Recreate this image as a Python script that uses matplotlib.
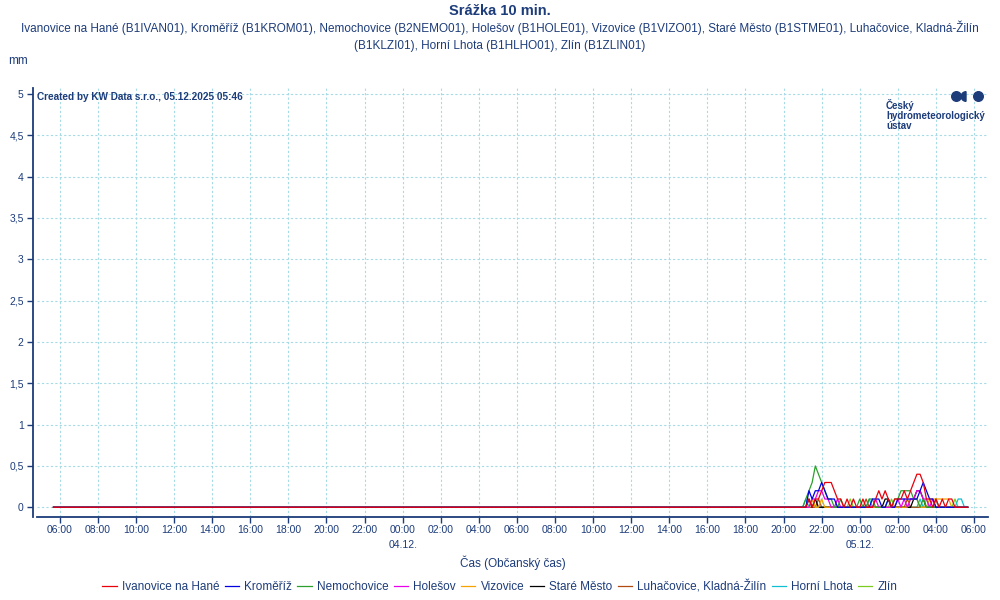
import numpy as np
import pandas as pd
import matplotlib
matplotlib.use("Agg")
import matplotlib.pyplot as plt
import matplotlib.dates as mdates
from matplotlib.patches import Circle, Wedge

plt.rcParams['font.family'] = ['Liberation Sans', 'DejaVu Sans']

navy = '#1d3c7a'
gridc = '#a6dbe6'

# 10-min rainfall, 03.12. 05:40 .. 05.12. 05:40; all stations are 0 until 04.12. 20:40
series_start = '2025-12-03 05:40'
active_start = '2025-12-04 20:40'
series_end = '2025-12-05 05:40'

# values from 04.12. 20:40 to 05.12. 05:40 (55 steps)
ivanovice = [0, 0, 0, 0, 0.1, 0, 0.1, 0.1, 0.2, 0.3, 0.3, 0.3, 0.2, 0.1, 0.1, 0, 0.1, 0, 0.1, 0,
             0, 0.1, 0, 0, 0, 0.1, 0.2, 0.1, 0.2, 0.1, 0, 0.1, 0.1, 0.1, 0.2, 0.1, 0.2, 0.3, 0.4, 0.4,
             0.3, 0.1, 0.1, 0, 0.1, 0, 0.1, 0, 0.1, 0.1, 0, 0, 0, 0, 0]
kromeriz = [0, 0, 0, 0, 0.2, 0.1, 0.2, 0.2, 0.3, 0.2, 0.1, 0.1, 0.1, 0, 0, 0, 0, 0, 0, 0,
            0, 0, 0, 0, 0.1, 0.1, 0.1, 0, 0, 0.1, 0, 0, 0.1, 0.1, 0.1, 0.1, 0.1, 0.1, 0.1, 0.2,
            0.3, 0.2, 0.1, 0.1, 0, 0, 0, 0, 0, 0, 0, 0, 0, 0, 0]
nemochovice = [0, 0, 0, 0.1, 0.2, 0.3, 0.5, 0.4, 0.3, 0.2, 0.1, 0.1, 0, 0, 0.1, 0, 0, 0, 0, 0,
               0.1, 0, 0, 0.1, 0.1, 0, 0, 0, 0, 0.1, 0, 0.1, 0.1, 0.2, 0.2, 0.2, 0.2, 0.1, 0.1, 0,
               0.1, 0, 0, 0, 0, 0, 0, 0, 0, 0, 0, 0, 0, 0, 0]
holesov = [0, 0, 0, 0, 0, 0.1, 0.1, 0.2, 0.2, 0.1, 0.1, 0, 0, 0.1, 0, 0, 0, 0, 0, 0,
           0, 0, 0, 0, 0, 0.1, 0, 0, 0, 0, 0, 0, 0.1, 0, 0.1, 0, 0.1, 0.1, 0.2, 0.2,
           0.1, 0.1, 0, 0.1, 0, 0, 0, 0, 0, 0, 0, 0, 0, 0, 0]
vizovice = [0, 0, 0, 0, 0, 0.1, 0, 0, 0.1, 0, 0, 0, 0, 0, 0, 0, 0, 0, 0, 0,
            0, 0, 0, 0, 0, 0, 0, 0, 0, 0, 0, 0, 0, 0, 0, 0, 0.1, 0.1, 0.1, 0,
            0, 0, 0.1, 0.1, 0.1, 0.1, 0.1, 0.1, 0.1, 0, 0, 0, 0, 0, 0]
stare_mesto = [0, 0, 0, 0, 0.1, 0, 0.1, 0, 0, 0, 0, 0, 0, 0, 0, 0, 0, 0, 0, 0,
               0, 0, 0, 0, 0, 0, 0, 0, 0.1, 0.1, 0, 0, 0, 0, 0, 0, 0, 0.1, 0.2, 0.2,
               0.1, 0, 0, 0, 0, 0, 0, 0, 0, 0, 0, 0, 0, 0, 0]
luhacovice = [0, 0, 0, 0, 0, 0, 0, 0.1, 0, 0, 0, 0, 0, 0, 0, 0, 0, 0, 0, 0,
              0, 0, 0.1, 0, 0, 0, 0, 0, 0, 0, 0, 0, 0, 0, 0, 0.1, 0, 0, 0, 0,
              0, 0, 0, 0, 0.1, 0, 0, 0, 0, 0, 0, 0, 0, 0, 0]
horni_lhota = [0, 0, 0, 0.1, 0, 0, 0, 0, 0, 0, 0, 0, 0, 0, 0, 0, 0, 0, 0, 0,
               0, 0, 0, 0.1, 0, 0, 0, 0, 0, 0, 0, 0, 0, 0, 0, 0, 0, 0, 0, 0.1,
               0, 0, 0, 0, 0, 0, 0, 0, 0, 0, 0, 0.1, 0.1, 0, 0]
zlin = [0, 0, 0, 0, 0, 0.1, 0, 0, 0, 0, 0, 0, 0, 0, 0, 0, 0, 0.1, 0, 0,
        0, 0, 0, 0, 0, 0, 0, 0, 0, 0, 0.1, 0, 0, 0, 0, 0, 0, 0, 0, 0,
        0, 0.1, 0, 0, 0, 0, 0, 0, 0, 0, 0.1, 0, 0, 0, 0]

names = ['Ivanovice na Hané', 'Kroměříž', 'Nemochovice', 'Holešov', 'Vizovice',
         'Staré Město', 'Luhačovice, Kladná-Žilín', 'Horní Lhota', 'Zlín']
colors = ['#e8000b', '#0000e0', '#2ca02c', '#e800e8', '#f5a300',
          '#000000', '#b04a10', '#10c0d0', '#7ccc20']
values = [ivanovice, kromeriz, nemochovice, holesov, vizovice,
          stare_mesto, luhacovice, horni_lhota, zlin]

quiet = pd.date_range(series_start, active_start, freq='10min')[:-1]
active = pd.date_range(active_start, series_end, freq='10min')
times = quiet.append(active)

fig = plt.figure(figsize=(10, 6), dpi=100)
ax = fig.add_axes([0.037, 0.138, 0.951, 0.715])

n = len(names)
for i, (nm, c, v) in enumerate(zip(names, colors, values)):
    y = np.concatenate([np.zeros(len(quiet)), np.array(v)])
    ax.plot(times, y, color=c, lw=0.9, label=nm, zorder=3 + n - i)

ax.set_xlim(pd.Timestamp('2025-12-03 04:48'), pd.Timestamp('2025-12-05 06:44'))
ax.set_ylim(-0.12, 5.07)

ax.xaxis.set_major_locator(mdates.HourLocator(byhour=range(0, 24, 2)))
ax.xaxis.set_major_formatter(mdates.DateFormatter('%H:%M'))
ax.set_yticks(np.arange(0, 5.01, 0.5))
ax.yaxis.set_major_formatter(plt.FuncFormatter(lambda v, p: ('%g' % v).replace('.', ',')))

ax.grid(True, color=gridc, ls=(0, (2, 2)), lw=0.8)
for s in ['top', 'right']:
    ax.spines[s].set_visible(False)
ax.spines['left'].set_position(('outward', 3))
ax.spines['left'].set_bounds(-0.12, 5.07)
for s in ['left', 'bottom']:
    ax.spines[s].set_color(navy)
    ax.spines[s].set_linewidth(1.3)
ax.tick_params(axis='both', colors=navy, labelsize=7.5, length=4, width=1)
ax.tick_params(axis='x', pad=1.5)
ax.tick_params(axis='y', pad=2.5)

for d in ['2025-12-04', '2025-12-05']:
    ax.annotate(pd.Timestamp(d).strftime('%d.%m.'), xy=(mdates.date2num(pd.Timestamp(d)), 0),
                xycoords=('data', 'axes fraction'), xytext=(0, -16.5), textcoords='offset points',
                ha='center', va='top', fontsize=7.5, color=navy)

ax.set_xlabel('Čas (Občanský čas)', fontsize=8.5, color=navy, labelpad=15)

fig.text(0.5, 0.982, 'Srážka 10 min.', ha='center', va='center', fontsize=10.5,
         fontweight='bold', color=navy)
fig.text(0.5, 0.94, 'Ivanovice na Hané (B1IVAN01), Kroměříž (B1KROM01), Nemochovice (B2NEMO01), '
         'Holešov (B1HOLE01), Vizovice (B1VIZO01), Staré Město (B1STME01), Luhačovice, Kladná-Žilín\n'
         '(B1KLZI01), Horní Lhota (B1HLHO01), Zlín (B1ZLIN01)', ha='center', va='center',
         fontsize=8.5, color=navy, linespacing=1.5)
fig.text(0.008, 0.898, 'mm', ha='left', va='center', fontsize=8.5, color=navy)

ax.text(0.0, 0.99, 'Created by KW Data s.r.o., 05.12.2025 05:46', transform=ax.transAxes,
        ha='left', va='top', fontsize=7.2, fontweight='bold', color=navy)

# CHMU logo
fig.text(0.886, 1 - 115 / 600, 'Český\nhydrometeorologický\nústav', ha='left', va='center',
         fontsize=7.0, fontweight='bold', color=navy, linespacing=1.0)
lax = fig.add_axes([0.945, 1 - 106 / 600, 0.05, 20 / 600])
lax.set_xlim(945, 995)
lax.set_ylim(106, 86)
lax.axis('off')
lax.add_patch(Circle((956.5, 96.5), 4.8, color=navy))
lax.add_patch(Wedge((966, 96.5), 4.8, 90, 270, color=navy))
lax.add_patch(Circle((978.5, 96.5), 4.8, color=navy))

fig.legend(loc='center', bbox_to_anchor=(0.5, 0.022), ncol=9, frameon=False,
           fontsize=8.5, handlelength=1.2, handletextpad=0.45, columnspacing=0.45,
           labelcolor=navy)

fig.savefig('out.png', dpi=100)
